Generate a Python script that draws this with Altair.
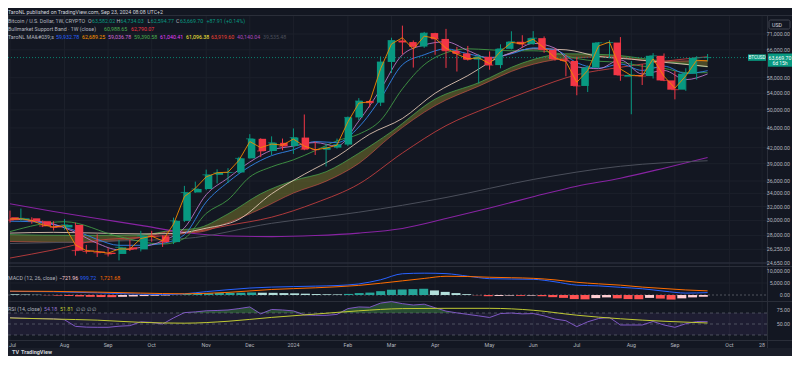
import altair as alt
import pandas as pd

# ---------------- values ----------------
week = list(range(65))  # weekly bars, Jul 3 2023 ... Sep 23 2024
opens = [30450, 30050, 30300, 29900, 29250, 29050, 29400, 26100, 26000, 25850,
         25700, 26500, 26250, 27950, 27900, 27150, 29950, 34150, 34700, 37050,
         37380, 37450, 39970, 43750, 41350, 42950, 42300, 44000, 41700, 41600,
         42000, 42600, 48300, 52100, 51700, 62400, 68900, 68400, 67000, 71300,
         69400, 65700, 64900, 63100, 63900, 61500, 66300, 68500, 67750, 69650,
         66000, 63200, 62700, 55850, 60800, 68200, 68250, 58300, 58750, 58450,
         64200, 57300, 54900, 59100, 63582.02]
highs = [31400, 31700, 30450, 30000, 29900, 30200, 29700, 26800, 28150, 26400,
         27400, 27450, 28600, 28600, 28000, 30400, 35200, 35900, 37950, 38000,
         38200, 40250, 44700, 43850, 44250, 43800, 45900, 48950, 43200, 42800,
         43800, 48500, 52800, 52400, 64000, 69800, 73800, 68900, 71700, 71400,
         72700, 66900, 67200, 64700, 65500, 67700, 71900, 70600, 71950, 70200,
         66450, 64500, 63800, 61400, 68400, 69000, 70000, 62700, 61800, 65000,
         64900, 59800, 60600, 64100, 64734.03]
lows = [29700, 29950, 29550, 29100, 28650, 28750, 25500, 25750, 25350, 25400,
        24950, 26050, 26000, 27200, 26550, 26900, 29800, 34100, 34500, 35600,
        35700, 37300, 39950, 40200, 40600, 41500, 40800, 41500, 40600, 38500,
        41800, 42300, 47700, 50600, 50900, 59300, 64600, 60800, 66600, 64500,
        60700, 59700, 62800, 56500, 60200, 60600, 66100, 66600, 67600, 65100,
        62800, 58400, 53500, 54300, 60600, 63500, 57200, 49000, 56100, 57800,
        57100, 52500, 54600, 57500, 62594.77]
closes = [30050, 30300, 29900, 29250, 29050, 29400, 26100, 26000, 25850, 25700,
          26500, 26250, 27950, 27900, 27150, 29950, 34150, 34700, 37050, 37380,
          37450, 39970, 43750, 41350, 42950, 42300, 44000, 41700, 41600, 42000,
          42600, 48300, 52100, 51700, 62400, 68900, 68400, 67000, 71300, 69400,
          65700, 64900, 63100, 63900, 61500, 66300, 68500, 67750, 69650, 66000,
          63200, 62700, 55850, 60800, 68200, 68250, 58700, 58750, 58450, 64200,
          57300, 54900, 59100, 63580, 63669.70]

orange_line = [30200, 30250, 30000, 29400, 29100, 29300, 26800, 26100, 26000, 25800,
               26300, 26300, 27600, 27900, 27300, 29500, 33500, 34800, 36700, 37400,
               37500, 39600, 43200, 42000, 42700, 42500, 43700, 42300, 41600, 41900,
               42500, 47300, 51600, 51900, 60500, 67800, 69800, 66200, 70300, 69600,
               66500, 64700, 63300, 63600, 61900, 65500, 68300, 67900, 69300, 66600,
               63600, 62500, 56800, 60000, 67200, 68400, 60400, 58600, 58500, 63300,
               58400, 55300, 58500, 62900, 62689.25]

blue_idx = list(range(0, 65, 2))
blue_line = [29900, 29830, 29430, 28630, 27490, 26750, 26750, 27000, 28100, 32680,
             35810, 38500, 40480, 41600, 43200, 42980, 46200, 52700, 61600, 64500,
             66300, 64800, 63700, 64800, 66600, 66000, 62200, 60600, 61800, 60000,
             61200, 59150, 59932.78]
pink_idx = list(range(0, 65, 2))
pink_line = [30200, 30000, 29500, 28400, 27000, 26200, 26500, 27300, 29000, 33800,
             36500, 39300, 41500, 42300, 43000, 42300, 47500, 55000, 64500, 67500,
             68500, 65800, 63500, 65000, 68000, 66500, 61000, 60500, 63000, 59000,
             60000, 57500, 59036.78]
green_idx = [0, 5, 10, 14, 16, 18, 20, 22, 24, 26, 28, 30, 32, 34, 36, 38, 40, 42,
             44, 46, 48, 50, 52, 54, 56, 58, 60, 62, 64]
green_line = [28500, 29830, 27850, 26900, 27620, 31000, 33000, 36680, 38440, 39700,
              41430, 43350, 44700, 47650, 55110, 61600, 65100, 66300, 66000, 65700,
              65700, 65100, 63400, 62600, 62300, 61200, 60600, 59400, 59390.58]
cream_idx = [0, 4, 8, 12, 15, 18, 21, 24, 27, 30, 33, 36, 39, 42, 45, 48, 51, 54, 57, 60, 64]
cream_line = [28300, 28400, 28300, 28200, 28250, 28950, 30160, 33930, 37140, 40300,
              44700, 48060, 54000, 58580, 63920, 66300, 66000, 64000, 63200, 62300, 61096.38]
band_idx = [0, 6, 12, 15, 17, 20, 23, 26, 29, 32, 35, 39, 43, 47, 51, 55, 59, 64]
band_sma = [28100, 28000, 28050, 28700, 28900, 30920, 33930, 36060, 37580, 40930,
            45210, 52540, 56690, 62080, 64800, 64500, 63000, 60988.65]
band_ema = [27230, 27100, 27700, 28500, 28400, 29700, 31650, 34050, 35970, 39050,
            44360, 51000, 55800, 60840, 63400, 63900, 62600, 62790.07]
red_idx = [0, 4, 8, 12, 16, 20, 24, 28, 32, 36, 40, 44, 48, 52, 56, 60, 64]
red_line = [25220, 26190, 27360, 27740, 28250, 29320, 30460, 32530, 35500, 40970,
            46490, 50750, 54980, 58810, 60880, 62600, 63919.60]
purple_idx = [0, 4, 8, 12, 16, 20, 24, 28, 32, 36, 40, 44, 48, 52, 56, 60, 64]
purple_line = [32400, 31260, 30270, 29330, 28370, 27920, 27850, 27980, 28300, 28920,
               30270, 31790, 33470, 35150, 36470, 38200, 40140.04]
grey_idx = [0, 8, 16, 24, 32, 40, 48, 56, 64]
grey_line = [26970, 27230, 27600, 29610, 31170, 33360, 36260, 38540, 39535.48]

macd_hist = [300, 200, 100, -100, -250, -400, -600, -750, -850, -900,
             -750, -600, -450, -300, -200, 100, 400, 600, 750, 850,
             900, 950, 1050, 950, 900, 800, 700, 550, 400, 300,
             250, 450, 800, 1000, 1600, 2200, 2300, 2450, 2600, 1900,
             1300, 800, 350, -100, -500, -400, -250, -350, -250, -500,
             -900, -1200, -1700, -1800, -1300, -1000, -1400, -1700, -1750, -1200,
             -1500, -1900, -1400, -1000, -721.96]
macd_idx = [0, 4, 8, 12, 14, 16, 18, 20, 22, 24, 26, 28, 30, 32, 34, 36, 38, 40, 42,
            44, 46, 48, 50, 52, 54, 56, 58, 60, 62, 64]
macd_line = [1500, 1350, 900, 350, 200, 500, 1400, 2200, 2900, 3300, 3500, 3700, 3950,
             4600, 6350, 8850, 9100, 8900, 7850, 6800, 6650, 6540, 5500, 4100, 3800,
             3200, 2600, 1600, 800, 999.72]
signal_idx = [0, 4, 8, 12, 16, 20, 24, 28, 32, 36, 38, 40, 42, 44, 46, 48, 50, 52, 54,
              56, 58, 60, 62, 64]
signal_line = [1600, 1500, 1200, 800, 500, 1100, 2300, 3000, 4000, 5900, 6900, 7800,
               7700, 7400, 7200, 6950, 6300, 5300, 4650, 4100, 3300, 2700, 2100, 1721.68]

rsi_vals = [61.8, 60.5, 60, 59.8, 59.5, 57.7, 45.7, 44.3, 44, 44,
            46, 47, 54, 53, 50, 61, 70.7, 72, 74, 74.6,
            75.5, 78, 81, 68.4, 76.4, 75.5, 73.8, 66.6, 65.7, 65.7,
            67.5, 78, 81, 80.4, 88, 90.7, 87, 84.5, 86, 79.6,
            73.4, 70.2, 67.5, 64.8, 61.8, 69, 70, 68.4, 69, 64.8,
            59, 56, 45.2, 54, 60, 61.8, 48.2, 48.2, 48.2, 54.6,
            48.2, 44, 50.5, 54.5, 54.18]
rsi_ma_idx = [0, 4, 8, 12, 16, 20, 24, 28, 32, 36, 40, 44, 48, 52, 56, 60, 64]
rsi_ma = [61, 59, 57, 53, 51.5, 55, 62, 68, 74, 78, 78.5, 78.5, 75, 66, 59.5, 55, 51.81]

month_idx = [5, 9, 13, 18, 22, 26, 31, 35, 39, 44, 48, 52, 57, 61, 66, 69]
month_lbl = ["Aug", "Sep", "Oct", "Nov", "Dec", "2024", "Feb", "Mar", "Apr",
             "May", "Jun", "Jul", "Aug", "Sep", "Oct", "28"]
first_lbl = "Jul"
price_ticks = [71000, 66000, 58000, 54000, 50000, 46000, 42000, 39000, 36000,
               34000, 32000, 30000, 28000, 26250, 24650]
macd_ticks = [10000, 5000, 0]
rsi_ticks = [75, 50]
last_price = 63669.70

# ---------------- styling ----------------
BG = "#131722"
GRID = "#1c202b"
SEP = "#2a2e39"
TXT = "#b2b5be"
UP = "#089981"
DN = "#f23645"
FONT = "Roboto"
FS = 5.3
PW = 759  # right edge of plot area (px)

XS = alt.Scale(domain=[0, 69], range=[2, 754.1], nice=False, zero=False)
PY = alt.Scale(type="log", domain=[24650, 71000], range=[255, 26], nice=False, zero=False)
MY = alt.Scale(domain=[0, 10000], range=[287, 263], nice=False, zero=False)
RY = alt.Scale(domain=[30, 70], range=[327, 305], nice=False, zero=False)


def xq(field="i"):
    return alt.X(f"{field}:Q", scale=XS, axis=None)


def yq(field, sc):
    return alt.Y(f"{field}:Q", scale=sc, axis=None)


def line(idx, vals, color, width=1.0, opacity=1.0, interp="monotone", sc=PY):
    df = pd.DataFrame({"i": idx, "v": vals})
    return alt.Chart(df).mark_line(color=color, strokeWidth=width, opacity=opacity,
                                   interpolate=interp).encode(x=xq(), y=yq("v", sc))


one = pd.DataFrame({"k": [0]})
layers = []

# bottom strip
layers.append(alt.Chart(one).mark_rect(color="#1a1e29").encode(
    x=alt.value(0), x2=alt.value(784), y=alt.value(340), y2=alt.value(348)))

# grids
layers.append(alt.Chart(pd.DataFrame({"i": [0] + month_idx})).mark_rule(color=GRID).encode(
    x=xq(), y=alt.value(8), y2=alt.value(332.5)))
layers.append(alt.Chart(pd.DataFrame({"v": price_ticks})).mark_rule(color=GRID).encode(
    y=yq("v", PY), x=alt.value(0), x2=alt.value(PW)))
layers.append(alt.Chart(pd.DataFrame({"v": [24650]})).mark_rule(color="#2f3340").encode(
    y=yq("v", PY), x=alt.value(0), x2=alt.value(PW)))
layers.append(alt.Chart(pd.DataFrame({"v": [5000]})).mark_rule(color=GRID).encode(
    y=yq("v", MY), x=alt.value(0), x2=alt.value(PW)))

# pane separators
layers.append(alt.Chart(pd.DataFrame({"y": [7.5, 258.5, 293.5, 332.5]})).mark_rule(color=SEP).encode(
    y=alt.Y("y:Q", scale=None, axis=None), x=alt.value(0), x2=alt.value(784)))
layers.append(alt.Chart(one).mark_rule(color=SEP).encode(
    x=alt.value(PW + 0.5), y=alt.value(7.5), y2=alt.value(340)))
layers.append(alt.Chart(one).mark_rule(color=SEP).encode(
    x=alt.value(0.5), y=alt.value(7.5), y2=alt.value(340)))

# bull market support band
band_df = pd.DataFrame({"i": band_idx, "g": band_sma, "r": band_ema})
layers.append(alt.Chart(band_df).mark_area(color="#7f7d2c", opacity=0.5, interpolate="monotone").encode(
    x=xq(), y=yq("g", PY), y2="r:Q"))
layers.append(line(band_idx, band_sma, "#4caf50", 1, 0.7))
layers.append(line(band_idx, band_ema, "#d0504a", 1, 0.65))

# moving averages
layers.append(line(purple_idx, purple_line, "#8e24aa", 1.1, 0.95))
layers.append(line(grey_idx, grey_line, "#4a4e5a", 1, 1))
layers.append(line(red_idx, red_line, "#c94040", 1, 0.85))
layers.append(line(cream_idx, cream_line, "#e9cdb8", 1, 0.85))
layers.append(line(green_idx, green_line, "#43a047", 1, 0.85))
layers.append(line(blue_idx, blue_line, "#2f7fe0", 1, 0.95))
layers.append(line(pink_idx, pink_line, "#b774c6", 1, 0.9))

# current price line
layers.append(alt.Chart(pd.DataFrame({"v": [last_price]})).mark_rule(
    color=UP, strokeDash=[1, 2], opacity=0.8).encode(y=yq("v", PY), x=alt.value(0), x2=alt.value(PW)))

# candles
cdf = pd.DataFrame({"i": week, "o": opens, "h": highs, "l": lows, "c": closes})
ccol = alt.condition("datum.c >= datum.o", alt.value(UP), alt.value(DN))
layers.append(alt.Chart(cdf).mark_rule(strokeWidth=1).encode(
    x=xq(), y=yq("l", PY), y2="h:Q", color=ccol))
layers.append(alt.Chart(cdf).mark_bar(size=7.5).encode(
    x=xq(), y=yq("o", PY), y2="c:Q", color=ccol))
layers.append(alt.Chart(cdf).mark_tick(orient="horizontal", size=7.5, thickness=1).encode(
    x=xq(), y=yq("c", PY), color=ccol))

# fast orange line on top
layers.append(line(week, orange_line, "#f08a00", 1, 0.9, interp="linear"))

# MACD pane
hdf = pd.DataFrame({"i": week, "h": macd_hist})
prev = [macd_hist[0]] + macd_hist[:-1]
kinds = []
for h, p in zip(macd_hist, prev):
    if h >= 0:
        kinds.append("a" if h > p else "b")
    else:
        kinds.append("c" if h > p else "d")
hdf["k"] = kinds
layers.append(alt.Chart(pd.DataFrame({"v": [0]})).mark_rule(
    color="#787b86", strokeDash=[2, 2], opacity=0.6).encode(y=yq("v", MY), x=alt.value(0), x2=alt.value(PW)))
layers.append(alt.Chart(hdf).mark_bar(size=9).encode(
    x=xq(), y=yq("h", MY), y2=alt.datum(0),
    color=alt.Color("k:N", scale=alt.Scale(domain=["a", "b", "c", "d"],
                                           range=["#26a69a", "#b2dfdb", "#ffcdd2", "#ff5252"]),
                    legend=None)))
layers.append(line(macd_idx, macd_line, "#2962ff", 1, 1, sc=MY))
layers.append(line(signal_idx, signal_line, "#ff6d00", 1, 1, sc=MY))

# RSI pane
layers.append(alt.Chart(pd.DataFrame({"a": [70], "b": [30]})).mark_rect(color="#7e57c2", opacity=0.1).encode(
    x=alt.value(0), x2=alt.value(PW), y=yq("a", RY), y2="b:Q"))
layers.append(alt.Chart(pd.DataFrame({"v": [70, 50, 30]})).mark_rule(
    color="#787b86", strokeDash=[3, 3], opacity=0.55).encode(y=yq("v", RY), x=alt.value(0), x2=alt.value(PW)))
rdf = pd.DataFrame({"i": week, "r": rsi_vals})
layers.append(alt.Chart(rdf).transform_calculate(t="max(datum.r, 70)").mark_area(
    color="#4caf50", opacity=0.35).encode(x=xq(), y=yq("t", RY), y2=alt.datum(70)))
layers.append(line(week, rsi_vals, "#7e57c2", 1, 1, interp="linear", sc=RY))
layers.append(line(rsi_ma_idx, rsi_ma, "#c0ca33", 1, 1, sc=RY))

# axis labels
layers.append(alt.Chart(pd.DataFrame({"i": month_idx, "t": month_lbl})).mark_text(
    font=FONT, fontSize=FS, color=TXT, align="center", baseline="middle").encode(
    x=xq(), y=alt.value(336.5), text="t:N"))
layers.append(alt.Chart(pd.DataFrame({"t": [first_lbl]})).mark_text(
    font=FONT, fontSize=FS, color=TXT, align="left", baseline="middle").encode(
    x=alt.value(1), y=alt.value(336.5), text="t:N"))
layers.append(alt.Chart(pd.DataFrame({"v": price_ticks, "t": [f"{v:,.2f}" for v in price_ticks]})).mark_text(
    font=FONT, fontSize=FS, color=TXT, align="right", baseline="middle").encode(
    x=alt.value(782), y=yq("v", PY), text="t:N"))
layers.append(alt.Chart(pd.DataFrame({"v": macd_ticks, "t": [f"{v:,.2f}" for v in macd_ticks]})).mark_text(
    font=FONT, fontSize=FS, color=TXT, align="right", baseline="middle").encode(
    x=alt.value(782), y=yq("v", MY), text="t:N"))
layers.append(alt.Chart(pd.DataFrame({"v": rsi_ticks, "t": [f"{v:,.2f}" for v in rsi_ticks]})).mark_text(
    font=FONT, fontSize=FS, color=TXT, align="right", baseline="middle").encode(
    x=alt.value(782), y=yq("v", RY), text="t:N"))

# last price tag + symbol tag
pdf = pd.DataFrame({"v": [last_price]})
layers.append(alt.Chart(pdf).mark_point(shape="M-1,-0.34H1V0.76H-1Z", filled=True, size=576,
                                        color=UP, opacity=1).encode(x=alt.value(772), y=yq("v", PY)))
layers.append(alt.Chart(pdf).mark_point(shape="M-1,-0.36H1V0.36H-1Z", filled=True, size=324,
                                        color=UP, opacity=1).encode(x=alt.value(749), y=yq("v", PY)))
layers.append(alt.Chart(pd.DataFrame({"v": [last_price], "t": [f"{last_price:,.2f}"]})).mark_text(
    font=FONT, fontSize=5.2, color="#ffffff", align="center", baseline="middle").encode(
    x=alt.value(772), y=yq("v", PY), text="t:N"))
layers.append(alt.Chart(pd.DataFrame({"v": [last_price], "t": ["6d 15h"]})).mark_text(
    font=FONT, fontSize=5, color="#ffffff", align="center", baseline="middle", dy=5.5).encode(
    x=alt.value(772), y=yq("v", PY), text="t:N"))
layers.append(alt.Chart(pd.DataFrame({"v": [last_price], "t": ["BTCUSD"]})).mark_text(
    font=FONT, fontSize=4.6, color="#ffffff", align="center", baseline="middle").encode(
    x=alt.value(749), y=yq("v", PY), text="t:N"))

# USD box
layers.append(alt.Chart(one).mark_rect(fill=BG, stroke="#434651", strokeWidth=1, cornerRadius=1.5).encode(
    x=alt.value(761), x2=alt.value(782), y=alt.value(12), y2=alt.value(21)))

# header, legends and logo (pixel-positioned text)
texts = [
    ("TaroNL published on TradingView.com, Sep 23, 2024 08:08 UTC+2", 0, 3.5, "#d1d4dc"),
    ("Bitcoin / U.S. Dollar, 1W, CRYPTO", 0, 12.5, TXT),
    ("O", 80, 12.5, TXT), ("63,582.02", 84, 12.5, UP),
    ("H", 108.5, 12.5, TXT), ("64,734.03", 112.5, 12.5, UP),
    ("L", 139.5, 12.5, TXT), ("62,594.77", 142.8, 12.5, UP),
    ("C", 168, 12.5, TXT), ("63,669.70", 172, 12.5, UP),
    ("+87.91 (+0.14%)", 198.5, 12.5, UP),
    ("Bullmarket Support Band · 1W (close)", 0, 20.5, TXT),
    ("60,988.65", 96, 20.5, "#4caf50"), ("62,790.07", 123, 20.5, "#f23645"),
    ("TaroNL MA&#039;s", 0, 28.5, TXT),
    ("59,932.78", 48, 28.5, "#2962ff"), ("62,689.25", 74, 28.5, "#ff9800"),
    ("59,036.78", 100, 28.5, "#d36bd6"), ("59,390.58", 126, 28.5, "#4caf50"),
    ("61,040.41", 152, 28.5, "#e040fb"), ("61,096.38", 178, 28.5, "#ffeb3b"),
    ("63,919.60", 203, 28.5, "#f44336"), ("40,140.04", 229, 28.5, "#ab47bc"),
    ("39,535.48", 255, 28.5, "#4a4e5a"),
    ("USD", 764, 16.5, "#d1d4dc"),
    ("MACD (12, 26, close)", 0, 270, TXT), ("\u2212721.96", 51, 270, "#ffcdd2"),
    ("999.72", 72, 270, "#2962ff"), ("1,721.68", 92, 270, "#ff6d00"),
    ("RSI (14, close)", 0, 301, TXT), ("54.18", 36, 301, "#9575cd"),
    ("51.81", 52, 301, "#c0ca33"), ("\u2205  \u2205  \u2205  \u2205", 68, 301, TXT),
]
tdf = pd.DataFrame(texts, columns=["t", "x", "y", "c"])
layers.append(alt.Chart(tdf).mark_text(font=FONT, fontSize=FS, align="left", baseline="middle").encode(
    x=alt.X("x:Q", scale=None, axis=None), y=alt.Y("y:Q", scale=None, axis=None), text="t:N",
    color=alt.Color("c:N", scale=None)))
logo = pd.DataFrame([("TV", 4, 343.8), ("TradingView", 13, 343.8)], columns=["t", "x", "y"])
layers.append(alt.Chart(logo).mark_text(font=FONT, fontSize=5.5, fontWeight="bold", color="#d1d4dc",
                                        align="left", baseline="middle").encode(
    x=alt.X("x:Q", scale=None, axis=None), y=alt.Y("y:Q", scale=None, axis=None), text="t:N"))

chart = alt.layer(*layers).resolve_scale(
    x="independent", y="independent", color="independent"
).properties(
    width=784, height=348, padding=0,
    autosize=alt.AutoSizeParams(type="none"), background=BG
).configure_view(strokeWidth=0)

chart.save("out.html", embed_options={"renderer": "svg", "actions": False})
